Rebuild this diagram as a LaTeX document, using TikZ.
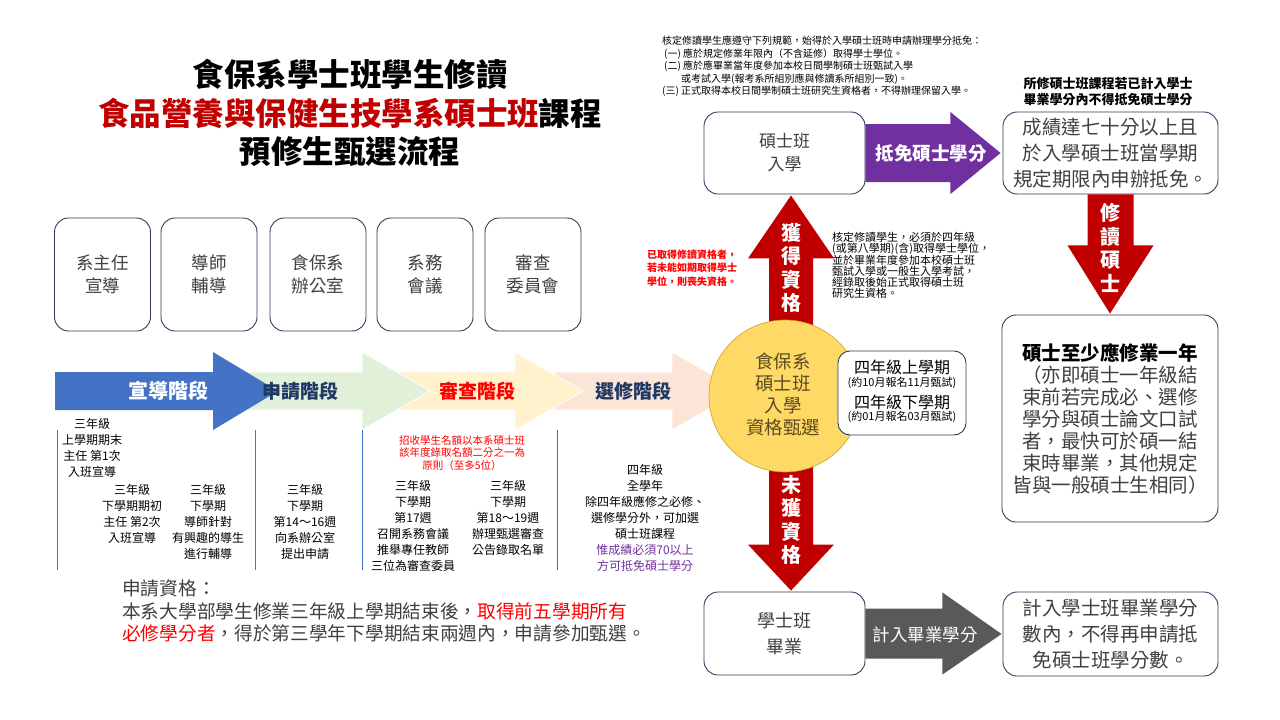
\documentclass[tikz,border=0pt]{standalone}
\usepackage{fontspec}
\setmainfont{Noto Sans CJK TC}
\usetikzlibrary{calc}
\definecolor{boxline}{HTML}{2F3C5A}
\definecolor{dred}{HTML}{C00000}
\definecolor{brred}{HTML}{FF0000}
\definecolor{purp}{HTML}{7030A0}
\definecolor{sblue}{HTML}{4472C4}
\definecolor{navy}{HTML}{1F3864}
\definecolor{dgray}{HTML}{595959}
\definecolor{txt}{HTML}{404040}
\definecolor{yel}{HTML}{FFD966}
\definecolor{yelline}{HTML}{C9A227}
\definecolor{circtext}{HTML}{5C4B1E}
\definecolor{lgreen}{HTML}{E2F0D9}
\definecolor{lyel}{HTML}{FFF2CC}
\definecolor{lpeach}{HTML}{FBE5D6}
\newcommand{\fsz}[2]{\fontsize{#1pt}{#2pt}\selectfont}
\begin{document}
\begin{tikzpicture}[x=1pt,y=-1pt,
  rbox/.style={draw=boxline,line width=0.9pt,rounded corners=14pt,fill=white,align=center,text=txt,inner sep=0pt},
  smalltxt/.style={align=center,inner sep=0pt,font=\fsz{12}{16}},
  stagearrow/.style={draw=white,line width=0.8pt},
  vlabel/.style={text=white,font=\fsz{20}{23.5}\bfseries,align=center,inner sep=0pt},
  vline/.style={draw=sblue,line width=0.6pt}]
\useasboundingbox (0,0) rectangle (1280,720);

% title
\node[font=\fsz{31.5}{38.5}\bfseries,align=center,inner sep=0pt] (title) at (350,113)
  {食保系學士班學生修讀\\\textcolor{dred}{食品營養與保健生技學系碩士班}課程\\預修生甄選流程};

% rules text
\node[anchor=north west,align=left,inner sep=0pt,font=\fsz{10}{12.5}] (rules) at (662,36)
  {核定修讀學生應遵守下列規範，始得於入學碩士班時申請辦理學分抵免：\\
   \hspace*{2pt}(一) 應於規定修業年限內（不含延修）取得學士學位。\\
   \hspace*{2pt}(二) 應於應畢業當年度參加本校日間學制碩士班甄試入學\\
   \hspace*{19pt}或考試入學(報考系所組別應與修讀系所組別一致)。\\
   (三) 正式取得本校日間學制碩士班研究生資格者，不得辦理保留入學。};

\node[font=\fsz{13}{16}\bfseries,align=center,inner sep=0pt] (topnote) at (1108,92)
  {所修碩士班課程若已計入學士\\畢業學分內不得抵免碩士學分};

% five role boxes
\foreach \n/\x/\t in {r1/102.5/{系主任\\宣導},r2/209/{導師\\輔導},r3/318/{食保系\\辦公室},r4/425/{系務\\會議},r5/533/{審查\\委員會}}{
  \node[rbox,minimum width=96pt,minimum height=113pt,font=\fsz{17.5}{23}] (\n) at (\x,274.5) {\t};
}

% stage arrows
\fill[lpeach,stagearrow] (555,372) -- (672,372) -- (672,352) -- (740,391) -- (672,430) -- (672,410) -- (555,410) -- cycle;
\fill[lyel,stagearrow] (400,372) -- (515,372) -- (515,352) -- (583,391) -- (515,430) -- (515,410) -- (400,410) -- cycle;
\fill[lgreen,stagearrow] (248,372) -- (362,372) -- (362,352) -- (430,391) -- (362,430) -- (362,410) -- (248,410) -- cycle;
\fill[sblue] (55,372) -- (213,372) -- (213,352) -- (278,391) -- (213,430) -- (213,410) -- (55,410) -- cycle;
\node[text=white,font=\fsz{20}{22}\bfseries,inner sep=0pt] (s1) at (168,391) {宣導階段};
\node[text=navy,font=\fsz{19}{22}\bfseries,inner sep=0pt] (s2) at (300,391) {申請階段};
\node[text=brred,font=\fsz{19}{22}\bfseries,inner sep=0pt] (s3) at (477,391) {審查階段};
\node[text=navy,font=\fsz{19}{22}\bfseries,inner sep=0pt] (s4) at (633,391) {選修階段};

% thin separators
\draw[vline] (57,430) -- (57,570);
\draw[vline] (255,430) -- (255,570);
\draw[vline] (362,430) -- (362,570);
\draw[vline] (557,430) -- (557,570);

% stage notes
\node[smalltxt] (n1) at (92,448) {三年級\\上學期期末\\主任 第1次\\入班宣導};
\node[smalltxt] (n2) at (132,514) {三年級\\下學期期初\\主任 第2次\\入班宣導};
\node[smalltxt] (n3) at (208,522) {三年級\\下學期\\導師針對\\有興趣的導生\\進行輔導};
\node[smalltxt] (n4) at (305,522) {三年級\\下學期\\第14～16週\\向系辦公室\\提出申請};
\node[align=center,inner sep=0pt,font=\fsz{10.5}{12.5},text=brred] (n5) at (462,453)
  {招收學生名額以本系碩士班\\該年度錄取名額二分之一為\\原則（至多5位）};
\node[smalltxt] (n6) at (413,526) {三年級\\下學期\\第17週\\召開系務會議\\推舉專任教師\\三位為審查委員};
\node[smalltxt] (n7) at (508,518) {三年級\\下學期\\第18～19週\\辦理甄選審查\\公告錄取名單};
\node[smalltxt] (n8) at (645,518) {四年級\\全學年\\除四年級應修之必修、\\選修學分外，可加選\\碩士班課程\\\textcolor{purp}{惟成績必須70以上}\\\textcolor{purp}{方可抵免碩士學分}};

% boxes on the right
\node[rbox,minimum width=161pt,minimum height=82pt,font=\fsz{17}{23}] (enter) at (784.5,153) {碩士班\\入學};
\node[rbox,minimum width=215pt,minimum height=82pt,font=\fsz{19.5}{26}] (credit) at (1110.5,153)
  {成績達七十分以上且\\於入學碩士班當學期\\規定期限內申辦抵免。};
\node[rbox,minimum width=216pt,minimum height=207pt,font=\fsz{19.5}{22}] (master) at (1110,418.5)
  {\textcolor{black}{\textbf{碩士至少應修業一年}}\\（亦即碩士一年級結\\束前若完成必、選修\\學分與碩士論文口試\\者，最快可於碩一結\\束時畢業，其他規定\\皆與一般碩士生相同）};
\node[rbox,minimum width=161pt,minimum height=83pt,font=\fsz{18}{26}] (grad) at (784.5,633.5) {學士班\\畢業};
\node[rbox,minimum width=215pt,minimum height=84pt,font=\fsz{19.5}{26}] (count) at (1110.5,634)
  {計入學士班畢業學分\\數內，不得再申請抵\\免碩士班學分數。};

% connectors (block arrows)
\fill[dred] ($(enter.south)+(6.5,1)$) -- ++(43,63) -- ++(-21,0) -- ++(0,82) -- ++(-44,0) -- ++(0,-82) -- ++(-21,0) -- cycle;
\fill[dred] ($(grad.north)+(6.5,-1)$) -- ++(43,-46) -- ++(-21,0) -- ++(0,-85) -- ++(-44,0) -- ++(0,85) -- ++(-21,0) -- cycle;
\fill[purp] ($(enter.east)+(0,-29)$) -- ++(85,0) -- ++(0,-12) -- ($(credit.west)+(-2,0)$) -- ($(enter.east)+(85,41)$) -- ++(0,-12) -- ++(-85,0) -- cycle;
\fill[dred] ($(credit.south)+(-23,0)$) -- ++(46,0) -- ++(0,51) -- ++(20,0) -- ($(master.north)+(0,-1)$) -- ($(credit.south)+(-43,51)$) -- ++(20,0) -- cycle;
\fill[dgray] ($(grad.east)+(0,-25)$) -- ++(77,0) -- ++(0,-16) -- ($(count.west)+(-1,0)$) -- ($(grad.east)+(77,41)$) -- ++(0,-16) -- ++(-77,0) -- cycle;

% circle
\node[circle,draw=yelline,line width=0.6pt,fill=yel,minimum size=152pt,inner sep=0pt] (circ) at (785,396) {};
\node[align=center,inner sep=0pt,text=circtext,font=\fsz{18.5}{22}] (circtxt) at (783,394) {食保系\\碩士班\\入學\\資格甄選};

\node[text=white,font=\fsz{18.5}{22}\bfseries,inner sep=0pt] (l1) at (931,153) {抵免碩士學分};
\node[text=white,font=\fsz{17.5}{22},inner sep=0pt] (l2) at (925,635) {計入畢業學分};
\node[vlabel] (l3) at (791,268) {獲\\得\\資\\格};
\node[vlabel] (l4) at (791,520) {未\\獲\\資\\格};
\node[vlabel] (l5) at (1110,248) {修\\讀\\碩\\士};

% schedule box
\node[draw=boxline,line width=0.9pt,rounded corners=12pt,fill=white,minimum width=128pt,minimum height=84pt,inner sep=0pt] (info) at (902,393) {};
\node[inner sep=0pt,font=\fsz{16}{18}] (i1) at (902,367) {四年級上學期};
\node[inner sep=0pt,font=\fsz{11}{13}] (i2) at (902,383) {(約10月報名11月甄試)};
\node[inner sep=0pt,font=\fsz{16}{18}] (i3) at (902,402) {四年級下學期};
\node[inner sep=0pt,font=\fsz{11}{13}] (i4) at (902,417) {(約01月報名03月甄試)};

% side notes
\node[align=center,inner sep=0pt,font=\fsz{10}{13.5}\bfseries,text=brred] (lost) at (692,268)
  {已取得修讀資格者，\\若未能如期取得學士\\學位，則喪失資格。};
\node[anchor=north west,align=left,inner sep=0pt,font=\fsz{11}{10.8}] (rule2) at (832,232)
  {核定修讀學生，必須於四年級\\(或第八學期)(含)取得學士學位，\\並於畢業年度參加本校碩士班\\甄試入學或一般生入學考試，\\經錄取後始正式取得碩士班\\研究生資格。};

% eligibility
\node[anchor=north west,align=left,inner sep=0pt,font=\fsz{18.7}{22.5},text=txt] (elig) at (122,580)
  {申請資格：\\本系大學部學生修業三年級上學期結束後，\textcolor{brred}{取得前五學期所有}\\\textcolor{brred}{必修學分者}，得於第三學年下學期結束兩週內，申請參加甄選。};
\end{tikzpicture}
\end{document}
